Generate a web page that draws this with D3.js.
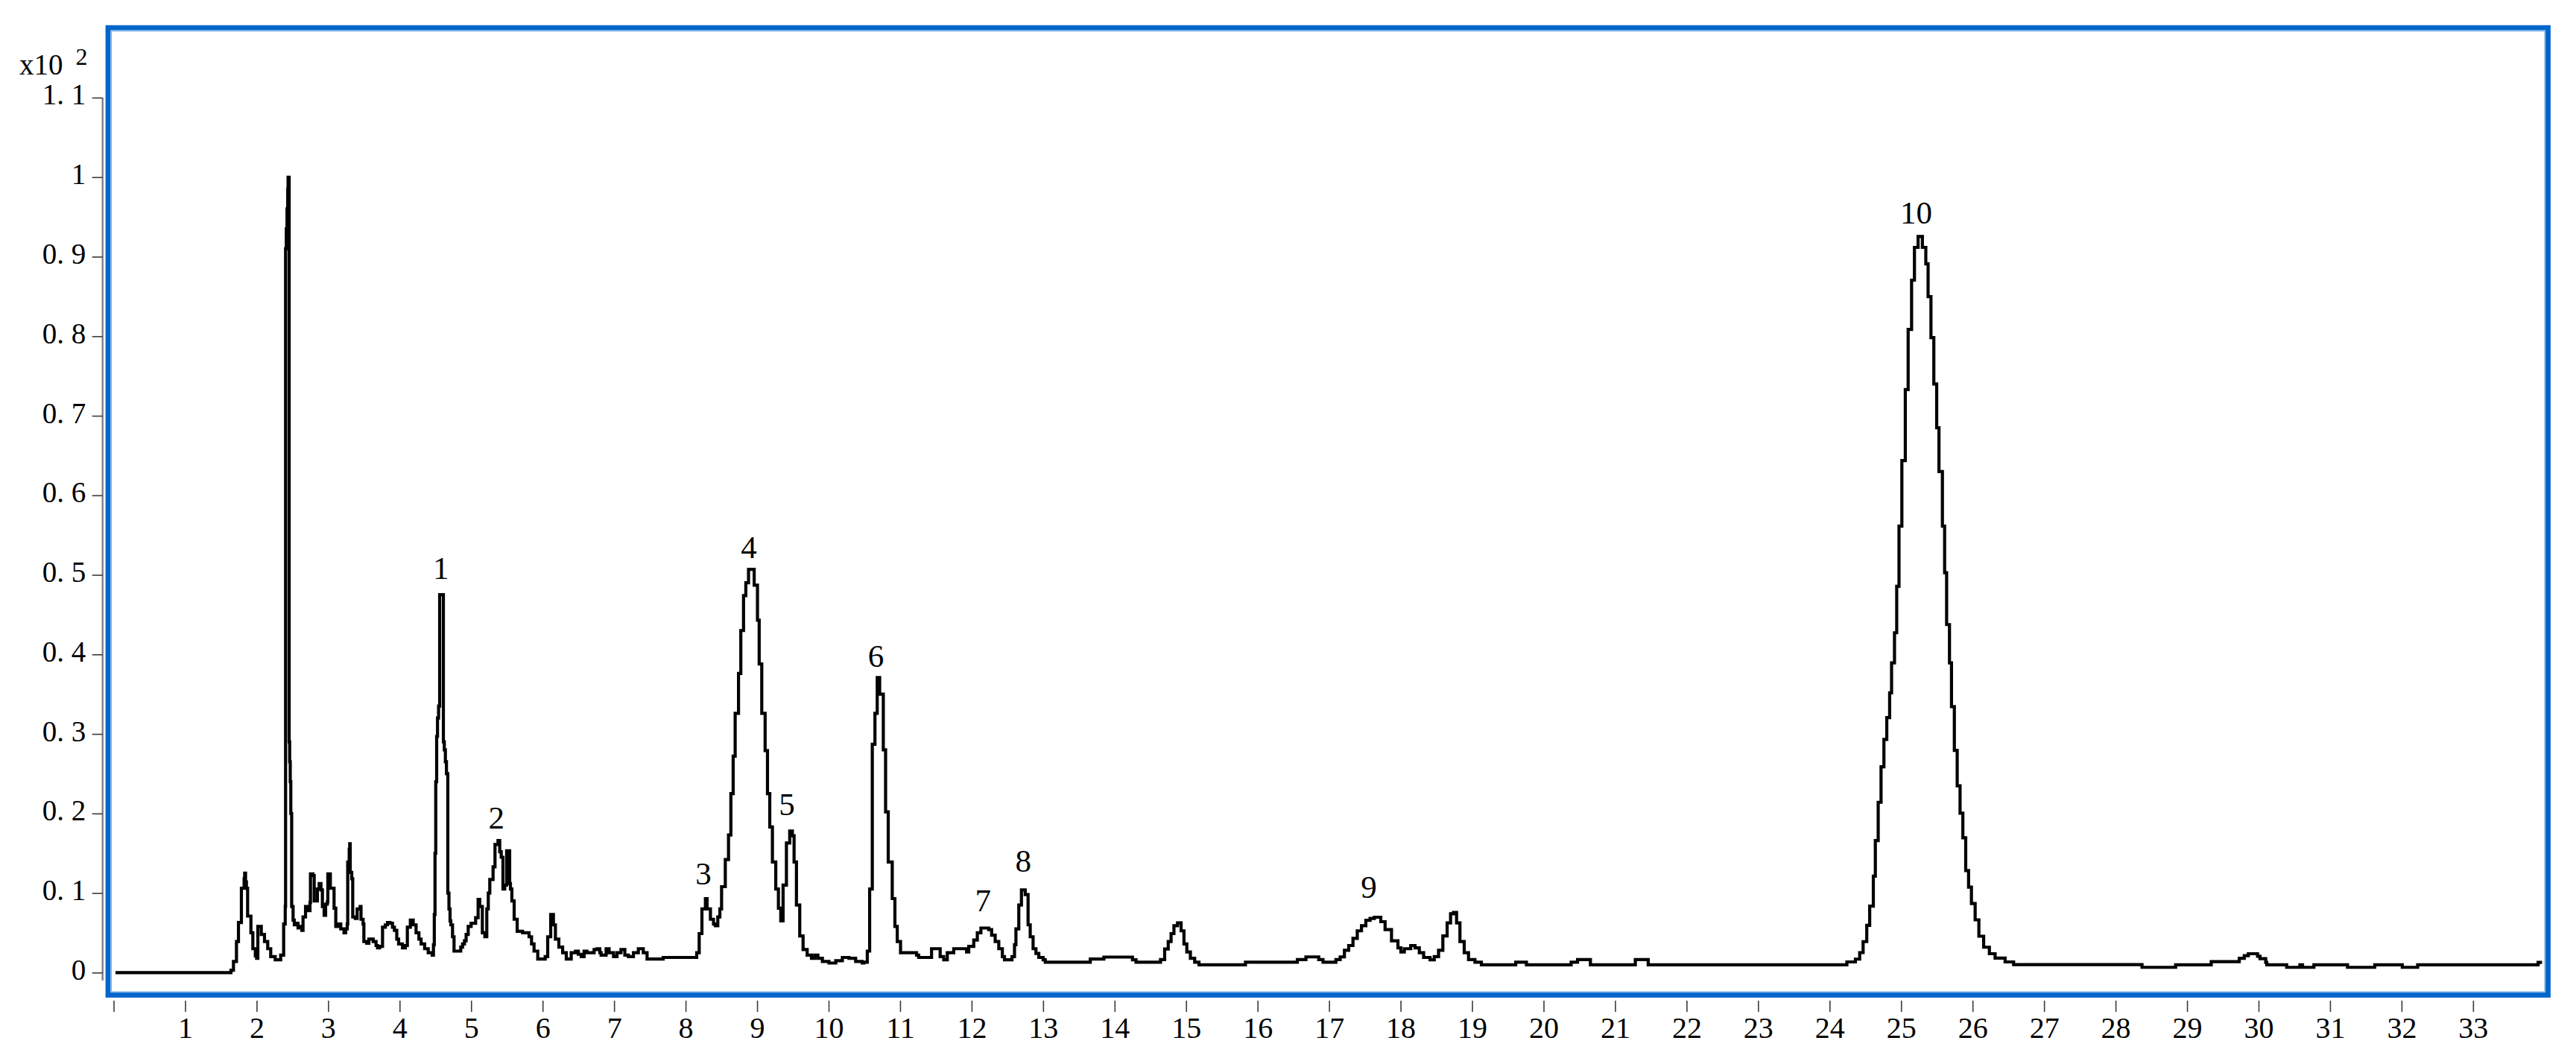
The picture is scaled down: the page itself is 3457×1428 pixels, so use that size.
<!DOCTYPE html>
<html>
<head>
<meta charset="utf-8">
<script src="https://cdn.jsdelivr.net/npm/d3@7"></script>
<style>
  html, body { margin: 0; padding: 0; background: #ffffff; }
  svg { display: block; }
  text { font-family: "Liberation Serif", "Times New Roman", serif; fill: #000; }
</style>
</head>
<body>
<svg id="chart" width="3457" height="1428"></svg>
<script>
// ---------- data (retention time in min, intensity in x10^2) ----------
const rt = [
  0.026, 1.641, 1.676, 1.718, 1.746, 1.787, 1.825, 1.833, 1.845, 1.857, 1.874, 1.92, 1.947, 1.982, 2.0,
  2.017, 2.065, 2.11, 2.155, 2.197, 2.26, 2.336, 2.378, 2.40, 2.405, 2.415, 2.425, 2.435, 2.44,
  2.455, 2.462, 2.47, 2.478, 2.49, 2.51, 2.527, 2.55, 2.579, 2.60, 2.632, 2.649, 2.684, 2.72,
  2.746, 2.753, 2.788, 2.805, 2.85, 2.875, 2.90, 2.92, 2.944, 2.965, 2.989, 2.996, 3.031, 3.06,
  3.083, 3.107, 3.14, 3.177, 3.222, 3.245, 3.267, 3.274, 3.295, 3.302, 3.309, 3.33, 3.344, 3.38,
  3.406, 3.448, 3.46, 3.489, 3.50, 3.54, 3.57, 3.63, 3.67, 3.691, 3.72, 3.761, 3.80, 3.83, 3.865,
  3.90, 3.927, 3.96, 3.986, 4.039, 4.08, 4.108, 4.15, 4.19, 4.23, 4.27, 4.30, 4.35, 4.40, 4.455,
  4.473, 4.485, 4.495, 4.505, 4.518, 4.53, 4.545, 4.56, 4.612, 4.625, 4.64, 4.655, 4.674, 4.69,
  4.705, 4.716, 4.74, 4.761, 4.855, 4.88, 4.907, 4.93, 4.959, 5.0, 5.063, 5.098, 5.12, 5.157,
  5.192, 5.219, 5.24, 5.261, 5.307, 5.334, 5.376, 5.40, 5.421, 5.445, 5.47, 5.497, 5.539, 5.55,
  5.57, 5.602, 5.644, 5.72, 5.81, 5.845, 5.88, 5.932, 6.036, 6.071, 6.113, 6.151, 6.179, 6.227,
  6.28, 6.331, 6.4, 6.46, 6.5, 6.54, 6.58, 6.62, 6.679, 6.72, 6.76, 6.80, 6.818, 6.888, 6.93,
  6.992, 7.04, 7.096, 7.15, 7.2, 7.27, 7.339, 7.408, 7.461, 7.686, 8.155, 8.19, 8.228, 8.277,
  8.30, 8.347, 8.39, 8.416, 8.45, 8.479, 8.503, 8.555, 8.60, 8.633, 8.665, 8.693, 8.74, 8.772,
  8.81, 8.842, 8.88, 8.959, 9.005, 9.029, 9.065, 9.112, 9.145, 9.177, 9.214, 9.261, 9.298, 9.331,
  9.363, 9.41, 9.456, 9.493, 9.517, 9.55, 9.596, 9.643, 9.70, 9.76, 9.805, 9.85, 9.913, 10.005,
  10.1, 10.192, 10.285, 10.378, 10.47, 10.494, 10.541, 10.574, 10.611, 10.648, 10.68, 10.714,
  10.765, 10.797, 10.834, 10.89, 10.927, 10.96, 11.006, 11.23, 11.26, 11.38, 11.44, 11.50, 11.56,
  11.61, 11.66, 11.75, 11.87, 11.93, 11.96, 12.03, 12.08, 12.13, 12.24, 12.28, 12.33, 12.38,
  12.43, 12.46, 12.565, 12.6, 12.62, 12.66, 12.697, 12.75, 12.79, 12.82, 12.86, 12.9, 12.94, 13.0,
  13.03, 13.66, 13.85, 14.25, 14.3, 14.642, 14.70, 14.75, 14.79, 14.83, 14.88, 14.93, 14.97,
  15.01, 15.06, 15.12, 15.18, 15.83, 16.556, 16.676, 16.855, 16.915, 17.095, 17.155, 17.214,
  17.274, 17.334, 17.394, 17.453, 17.514, 17.573, 17.633, 17.723, 17.783, 17.873, 17.963, 18.004,
  18.052, 18.142, 18.202, 18.262, 18.322, 18.412, 18.471, 18.531, 18.591, 18.651, 18.699, 18.74,
  18.783, 18.83, 18.89, 18.95, 19.04, 19.13, 19.61, 19.76, 20.385, 20.475, 20.655, 21.283, 21.463,
  24.242, 24.361, 24.421, 24.469, 24.52, 24.561, 24.612, 24.64, 24.68, 24.72, 24.76, 24.80, 24.84,
  24.867, 24.908, 24.939, 24.971, 25.011, 25.059, 25.099, 25.147, 25.187, 25.238, 25.298, 25.346,
  25.378, 25.418, 25.458, 25.498, 25.53, 25.578, 25.609, 25.637, 25.677, 25.705, 25.745, 25.785,
  25.825, 25.864, 25.904, 25.944, 25.984, 26.036, 26.088, 26.155, 26.235, 26.315, 26.455, 26.574,
  28.37, 28.84, 29.338, 29.73, 29.80, 29.857, 29.986, 30.02, 30.10, 30.115, 30.393, 30.578, 30.615,
  30.774, 31.244, 31.625, 32.01, 32.225, 33.91, 33.965
];
const intensity = [
  0.0, 0.003, 0.014, 0.039, 0.063, 0.106, 0.118, 0.125, 0.114, 0.106, 0.071, 0.05, 0.03, 0.021, 0.018,
  0.058, 0.048, 0.039, 0.03, 0.02, 0.016, 0.022, 0.061, 0.083, 0.91, 0.935, 0.96, 0.985, 1.0,
  0.29, 0.265, 0.24, 0.2, 0.083, 0.066, 0.06, 0.062, 0.056, 0.058, 0.053, 0.07, 0.083, 0.078,
  0.088, 0.124, 0.122, 0.09, 0.105, 0.112, 0.104, 0.083, 0.072, 0.086, 0.089, 0.124, 0.106, 0.106,
  0.081, 0.058, 0.061, 0.055, 0.05, 0.055, 0.061, 0.139, 0.155, 0.162, 0.126, 0.118, 0.07, 0.068,
  0.08, 0.083, 0.067, 0.061, 0.039, 0.037, 0.042, 0.039, 0.034, 0.031, 0.033, 0.057, 0.06, 0.063, 0.062,
  0.057, 0.053, 0.042, 0.036, 0.031, 0.034, 0.057, 0.066, 0.06, 0.05, 0.042, 0.036, 0.03, 0.025, 0.022,
  0.035, 0.073, 0.15, 0.24, 0.297, 0.32, 0.335, 0.475, 0.29, 0.28, 0.265, 0.25, 0.10, 0.08,
  0.065, 0.06, 0.045, 0.027, 0.032, 0.036, 0.04, 0.048, 0.058, 0.062, 0.069, 0.092, 0.083, 0.05,
  0.045, 0.08, 0.1, 0.117, 0.133, 0.161, 0.166, 0.152, 0.145, 0.105, 0.11, 0.153, 0.112, 0.105,
  0.09, 0.067, 0.052, 0.05, 0.045, 0.036, 0.027, 0.017, 0.02, 0.045, 0.073, 0.06, 0.042, 0.032,
  0.025, 0.017, 0.025, 0.027, 0.023, 0.02, 0.027, 0.025, 0.025, 0.029, 0.03, 0.025, 0.022, 0.03, 0.025,
  0.02, 0.025, 0.029, 0.022, 0.02, 0.025, 0.03, 0.025, 0.017, 0.019, 0.025, 0.049, 0.08, 0.093,
  0.08, 0.067, 0.061, 0.059, 0.07, 0.08, 0.108, 0.142, 0.173, 0.225, 0.272, 0.326, 0.376, 0.43,
  0.474, 0.49, 0.507, 0.487, 0.443, 0.388, 0.326, 0.279, 0.225, 0.183, 0.139, 0.105, 0.081, 0.065,
  0.11, 0.163, 0.178, 0.172, 0.139, 0.085, 0.046, 0.029, 0.022, 0.018, 0.022, 0.018, 0.014, 0.012,
  0.015, 0.019, 0.018, 0.014, 0.012, 0.013, 0.027, 0.105, 0.287, 0.326, 0.371, 0.35,
  0.28, 0.202, 0.139, 0.093, 0.058, 0.039, 0.025, 0.022, 0.019, 0.019, 0.03, 0.03, 0.02,
  0.016, 0.025, 0.03, 0.03, 0.026, 0.033, 0.041, 0.05, 0.056, 0.054, 0.047, 0.039, 0.03,
  0.02, 0.016, 0.02, 0.035, 0.055, 0.085, 0.104, 0.098, 0.06, 0.045, 0.03, 0.024, 0.019, 0.016,
  0.013, 0.017, 0.0195, 0.016, 0.013, 0.0164, 0.0296, 0.039, 0.049, 0.059, 0.0624, 0.0525, 0.036,
  0.026, 0.018, 0.013, 0.0098, 0.0131, 0.0164, 0.0197, 0.0164, 0.0131, 0.0164, 0.0197, 0.028,
  0.034, 0.043, 0.0525, 0.059, 0.0657, 0.068, 0.0696, 0.064, 0.054, 0.04, 0.031, 0.026,
  0.030, 0.034, 0.031, 0.025, 0.019, 0.016, 0.02, 0.028, 0.046, 0.0624, 0.074, 0.0755,
  0.0624, 0.039, 0.025, 0.0164, 0.0131, 0.0098, 0.0131, 0.0098, 0.0131, 0.0164, 0.0098, 0.0164, 0.0098,
  0.0134, 0.0169, 0.0251, 0.0389, 0.0595, 0.0836, 0.1213, 0.166, 0.2141, 0.2587, 0.2931, 0.3206, 0.3516,
  0.3894, 0.4272, 0.4856, 0.5612, 0.6437, 0.733, 0.8086, 0.8705, 0.9117, 0.9254, 0.9117, 0.891,
  0.8498, 0.7983, 0.7399, 0.6849, 0.6299, 0.5612, 0.5028, 0.4375, 0.3894, 0.3344, 0.2794, 0.2348,
  0.2004, 0.1695, 0.1282, 0.1075, 0.0869, 0.0663, 0.0457, 0.0319, 0.0237, 0.0182, 0.0134, 0.01,
  0.0066, 0.0097, 0.0137, 0.018, 0.0212, 0.0237, 0.0206, 0.0175, 0.0128, 0.0097, 0.0066, 0.0097, 0.0066,
  0.0097, 0.0066, 0.0097, 0.0066, 0.0097, 0.0128, 0.0128
];

const peakNames   = ["1", "2", "3", "4", "5", "6", "7", "8", "9", "10"];
const peakLabelRt = [4.577, 5.355, 8.249, 8.884, 9.416, 10.661, 12.16, 12.723, 17.556, 25.211];
const peakLabelLv = [0.4953, 0.1814, 0.1111, 0.5212, 0.1975, 0.3845, 0.0774, 0.1267, 0.0939, 0.9413];

const yTickValues = [0, 0.1, 0.2, 0.3, 0.4, 0.5, 0.6, 0.7, 0.8, 0.9, 1.0, 1.1];
const yTickLabels = ["0", "0. 1", "0. 2", "0. 3", "0. 4", "0. 5", "0. 6", "0. 7", "0. 8", "0. 9", "1", "1. 1"];
const xTickValues = d3.range(0, 34);
const xTickLabels = xTickValues.map(d => d === 0 ? "" : String(d));
const yUnitLabel = "x10";
const yUnitExp = "2";

// ---------- layout ----------
const svg = d3.select("#chart");
const x = d3.scaleLinear().domain([0, 33]).range([152.5, 152.5 + 33 * 95.95]);
const y = d3.scaleLinear().domain([0, 1.1]).range([1305.3, 131]);

// frame
svg.append("rect")
  .attr("x", 145).attr("y", 37.2)
  .attr("width", 3419.5 - 145).attr("height", 1335.5 - 37.2)
  .attr("fill", "none").attr("stroke", "#0066cc").attr("stroke-width", 6.8);
svg.append("rect")
  .attr("x", 149.3).attr("y", 41.5)
  .attr("width", 3415.3 - 149.3).attr("height", 1331.3 - 41.5)
  .attr("fill", "none").attr("stroke", "#7fb2e5").attr("stroke-width", 1.6);

// y axis
const yAxisX = 137.7;
svg.append("line")
  .attr("x1", yAxisX).attr("x2", yAxisX)
  .attr("y1", y(1.1)).attr("y2", 1316)
  .attr("stroke", "#808080").attr("stroke-width", 2.4);

const yAxis = d3.axisLeft(y)
  .tickValues(yTickValues)
  .tickFormat((d, i) => yTickLabels[i])
  .tickSize(14)
  .tickPadding(8.5)
  .tickSizeOuter(0);
const gy = svg.append("g").attr("transform", `translate(${yAxisX},0)`).call(yAxis);
gy.select(".domain").remove();
gy.selectAll(".tick line").attr("stroke", "#3a3a3a").attr("stroke-width", 1.6);
gy.selectAll(".tick text")
  .attr("dy", "0.23em")
  .style("font-family", "'Liberation Serif', 'Times New Roman', serif")
  .style("font-size", "39px")
  .attr("fill", "#000");

// unit label
const unit = svg.append("text")
  .attr("x", 26).attr("y", 99.5)
  .style("font-size", "39px");
unit.append("tspan").text(yUnitLabel);
svg.append("text")
  .attr("x", 101.5).attr("y", 87)
  .style("font-size", "32px")
  .text(yUnitExp);

// x axis (ticks below frame)
const xAxis = d3.axisBottom(x)
  .tickValues(xTickValues)
  .tickFormat((d, i) => xTickLabels[i])
  .tickSize(15)
  .tickPadding(7)
  .tickSizeOuter(0);
const gx = svg.append("g").attr("transform", "translate(0,1343)").call(xAxis);
gx.select(".domain").remove();
gx.selectAll(".tick line").attr("stroke", "#3a3a3a").attr("stroke-width", 1.6);
gx.selectAll(".tick text")
  .style("font-family", "'Liberation Serif', 'Times New Roman', serif")
  .style("font-size", "40px")
  .attr("fill", "#000");

// chromatogram trace
const pts = rt.map((t, i) => [t, intensity[i]]);
const line = d3.line()
  .x(d => x(d[0]))
  .y(d => y(d[1]))
  .curve(d3.curveStepAfter);
svg.append("path")
  .datum(pts)
  .attr("d", line)
  .attr("fill", "none")
  .attr("stroke", "#000")
  .attr("stroke-width", 4.2)
  .attr("stroke-linejoin", "miter");

// peak labels
svg.append("g").selectAll("text")
  .data(peakNames)
  .join("text")
  .attr("x", (d, i) => x(peakLabelRt[i]))
  .attr("y", (d, i) => y(peakLabelLv[i]))
  .attr("text-anchor", "middle")
  .style("font-size", "43px")
  .text(d => d);
</script>
</body>
</html>
